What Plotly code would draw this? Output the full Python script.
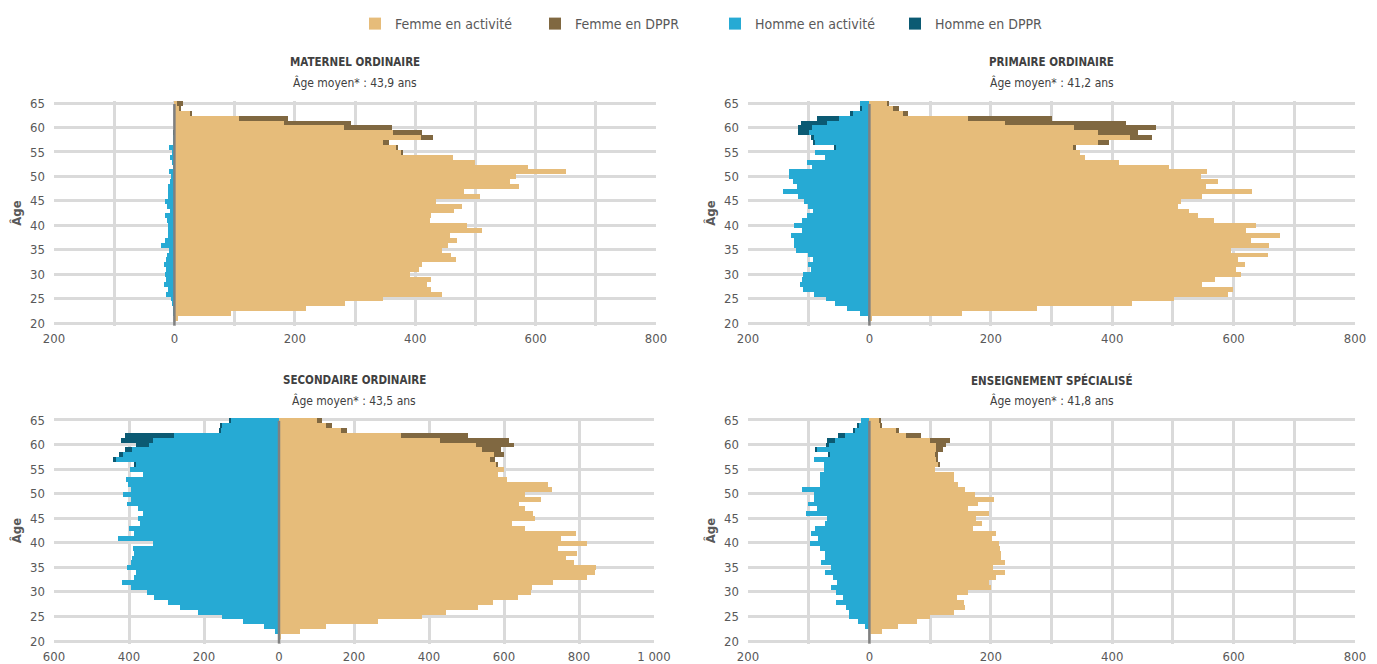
import plotly.graph_objects as go

ages = list(range(65, 19, -1))  # 65 .. 20

# ---- MATERNEL ORDINAIRE (ages 65 -> 20)
mat_f_act = [5, 8, 26, 107, 182, 281, 363, 409, 347, 368, 378, 462, 500, 588, 650, 567, 558, 573, 481, 507,
             434, 477, 465, 427, 424, 486, 511, 457, 470, 455, 445, 460, 467, 412, 407, 391, 426, 419, 427, 444,
             346, 283, 218, 94, 6, 0]
mat_f_dppr = [9, 2, 2, 82, 112, 81, 49, 21, 10, 4, 1, 0, 0, 0, 0, 0, 0, 0, 0, 0,
              0, 0, 0, 0, 0, 0, 0, 0, 0, 0, 0, 0, 0, 0, 0, 0, 0, 0, 0, 0,
              0, 0, 0, 0, 0, 0]
mat_h_act = [0, 0, 0, 0, 0, 0, 0, 3, 3, 9, 4, 7, 4, 3, 9, 5, 7, 10, 10, 10,
             15, 12, 8, 15, 12, 10, 10, 10, 15, 23, 9, 12, 14, 17, 14, 15, 14, 17, 10, 14,
             6, 4, 2, 1, 0, 0]
mat_h_dppr = [0, 0, 0, 0, 0, 0, 3, 0, 0, 0, 0, 0, 0, 0, 0, 0, 0, 0, 0, 0,
              0, 0, 0, 0, 0, 0, 0, 0, 0, 0, 0, 0, 0, 0, 0, 0, 0, 0, 0, 0,
              0, 0, 0, 0, 0, 0]

# ---- PRIMAIRE ORDINAIRE
pri_f_act = [29, 39, 55, 162, 224, 337, 377, 430, 377, 335, 347, 356, 412, 493, 556, 546, 574, 554, 631, 548,
             513, 509, 527, 541, 567, 637, 620, 677, 629, 659, 596, 657, 607, 619, 604, 612, 569, 548, 599, 591,
             502, 433, 276, 153, 4, 0]
pri_f_dppr = [3, 9, 8, 139, 199, 135, 65, 36, 17, 6, 0, 0, 0, 0, 0, 0, 0, 0, 0, 0,
              0, 0, 0, 0, 0, 0, 0, 0, 0, 0, 0, 0, 0, 0, 0, 0, 0, 0, 0, 0,
              0, 0, 0, 0, 0, 0]
pri_h_act = [16, 13, 27, 50, 70, 95, 99, 91, 91, 56, 90, 73, 102, 94, 132, 132, 126, 119, 143, 118,
             108, 101, 93, 103, 111, 124, 111, 129, 125, 125, 121, 101, 93, 101, 97, 110, 111, 115, 110, 92,
             71, 57, 37, 15, 1, 0]
pri_h_dppr = [0, 2, 5, 37, 43, 22, 19, 5, 2, 2, 0, 0, 0, 0, 0, 0, 0, 0, 0, 0,
              0, 0, 0, 0, 0, 0, 0, 0, 0, 0, 0, 0, 0, 0, 0, 0, 0, 0, 0, 0,
              0, 0, 0, 0, 0, 0]

# ---- SECONDAIRE ORDINAIRE
sec_f_act = [101, 125, 166, 324, 428, 525, 541, 572, 562, 579, 601, 585, 607, 716, 728, 655, 699, 640, 655, 678,
             682, 622, 655, 793, 753, 820, 744, 794, 766, 786, 846, 843, 820, 731, 675, 672, 638, 571, 530, 445,
             382, 264, 125, 57, 3, 0]
sec_f_dppr = [13, 16, 15, 179, 184, 102, 51, 29, 13, 6, 0, 0, 0, 0, 0, 0, 0, 0, 0, 0,
              0, 0, 0, 0, 0, 0, 0, 0, 0, 0, 0, 0, 0, 0, 0, 0, 0, 0, 0, 0,
              0, 0, 0, 0, 0, 0]
sec_h_act = [128, 153, 155, 280, 337, 347, 391, 417, 434, 383, 398, 363, 407, 403, 394, 415, 394, 405, 376, 363,
             376, 370, 400, 386, 429, 337, 389, 387, 392, 394, 405, 382, 386, 418, 394, 352, 333, 297, 264, 217,
             153, 95, 39, 10, 1, 0]
sec_h_dppr = [5, 5, 5, 130, 84, 34, 20, 11, 8, 3, 0, 0, 0, 0, 0, 0, 0, 0, 0, 0,
              0, 0, 0, 0, 0, 0, 0, 0, 0, 0, 0, 0, 0, 0, 0, 0, 0, 0, 0, 0,
              0, 0, 0, 0, 0, 0]

# ---- ENSEIGNEMENT SPÉCIALISÉ
spe_f_act = [17, 19, 44, 60, 100, 109, 110, 108, 111, 114, 108, 139, 139, 146, 158, 174, 206, 179, 162, 197,
             176, 185, 171, 209, 202, 214, 215, 217, 217, 224, 204, 224, 209, 197, 201, 162, 144, 156, 158, 139,
             100, 79, 47, 21, 0, 0]
spe_f_dppr = [1, 2, 5, 25, 33, 17, 11, 5, 1, 3, 0, 0, 0, 0, 0, 0, 0, 0, 0, 0,
              0, 0, 0, 0, 0, 0, 0, 0, 0, 0, 0, 0, 0, 0, 0, 0, 0, 0, 0, 0,
              0, 0, 0, 0, 0, 0]
spe_h_act = [14, 18, 24, 41, 57, 68, 87, 65, 92, 74, 74, 81, 81, 81, 111, 92, 92, 101, 87, 104,
             70, 73, 90, 96, 85, 98, 82, 73, 73, 80, 63, 73, 60, 53, 64, 55, 44, 55, 39, 34,
             33, 18, 7, 0, 0, 0]
spe_h_dppr = [0, 2, 2, 10, 13, 3, 3, 2, 0, 0, 0, 0, 0, 0, 0, 0, 0, 0, 0, 0,
              0, 0, 0, 0, 0, 0, 0, 0, 0, 0, 0, 0, 0, 0, 0, 0, 0, 0, 0, 0,
              0, 0, 0, 0, 0, 0]

panel_titles = ["MATERNEL ORDINAIRE", "PRIMAIRE ORDINAIRE", "SECONDAIRE ORDINAIRE", "ENSEIGNEMENT SPÉCIALISÉ"]
panel_subtitles = ["Âge moyen* : 43,9 ans", "Âge moyen* : 41,2 ans", "Âge moyen* : 43,5 ans", "Âge moyen* : 41,8 ans"]
series_names = ["Femme en activité", "Femme en DPPR", "Homme en activité", "Homme en DPPR"]
y_ticks = [20, 25, 30, 35, 40, 45, 50, 55, 60, 65]
x_ticks_small = [-200, 0, 200, 400, 600, 800]
x_ticks_small_text = ["200", "0", "200", "400", "600", "800"]
x_ticks_big = [-600, -400, -200, 0, 200, 400, 600, 800, 1000]
x_ticks_big_text = ["600", "400", "200", "0", "200", "400", "600", "800", "1 000"]

COL_F_ACT = "#E6BC7A"
COL_F_DPPR = "#806841"
COL_H_ACT = "#26AAD4"
COL_H_DPPR = "#0B5A73"
GRID = "#DADADA"
TXT = "#595959"
FONT = "DejaVu Sans Condensed, Liberation Sans Narrow, Roboto Condensed, Arial Narrow, sans-serif"

panels = [
    (mat_f_act, mat_f_dppr, mat_h_act, mat_h_dppr),
    (pri_f_act, pri_f_dppr, pri_h_act, pri_h_dppr),
    (sec_f_act, sec_f_dppr, sec_h_act, sec_h_dppr),
    (spe_f_act, spe_f_dppr, spe_h_act, spe_h_dppr),
]

W, H = 1377, 664
OFF = 8  # page body margin offset
# pixel domains of plot areas (page pixels)
x_dom_px = [(54, 656), (748, 1355), (54, 654), (748, 1355)]
y_dom_px = [(100.6, 325.5), (100.6, 325.5), (417.5, 643.5), (417.5, 643.5)]
x_ranges = [(-200, 800), (-200, 800), (-600, 1000), (-200, 800)]

fig = go.Figure()
colors = [COL_F_ACT, COL_F_DPPR, COL_H_ACT, COL_H_DPPR]

for i, (fa, fd, ha, hd) in enumerate(panels):
    ax = "" if i == 0 else str(i + 1)
    vals = [fa, fd, [-v for v in ha], [-v for v in hd]]
    for k in range(4):
        fig.add_trace(go.Bar(
            y=ages, x=vals[k], orientation="h", name=series_names[k],
            marker=dict(color=colors[k], line=dict(width=0)),
            xaxis="x" + ax, yaxis="y" + ax, showlegend=(i == 0), legendrank=k + 1,
            hoverinfo="skip",
        ))
    x0, x1 = [v - OFF for v in x_dom_px[i]]
    yt, yb = [v - OFF for v in y_dom_px[i]]
    big = i == 2
    step = 200 if big else 100
    lo, hi = x_ranges[i]
    gridvals = list(range(lo, hi + 1, step))
    if big:
        tvals, ttext = x_ticks_big, x_ticks_big_text
    else:
        tvals, ttext = x_ticks_small, x_ticks_small_text
    full_text = [ttext[tvals.index(v)] if v in tvals else "" for v in gridvals]
    fig.update_layout(**{
        "xaxis" + ax: dict(
            domain=[x0 / W, x1 / W], range=[lo, hi], anchor="y" + ax,
            tickvals=gridvals, ticktext=full_text, showgrid=True, gridcolor=GRID, gridwidth=2.5,
            zeroline=False, showline=False, ticks="", automargin=False, ticklabelstandoff=3,
            tickfont=dict(size=13, color=TXT, family=FONT), fixedrange=True,
        ),
        "yaxis" + ax: dict(
            domain=[1 - yb / H, 1 - yt / H], range=[19.5, 65.5], anchor="x" + ax,
            tickvals=y_ticks, showgrid=True, gridcolor=GRID, gridwidth=2.5,
            zeroline=False, showline=False, ticks="", automargin=False, ticklabelstandoff=8,
            tickfont=dict(size=13, color=TXT, family=FONT),
            title=dict(text="<b>Âge</b>", font=dict(size=13, color=TXT, family=FONT), standoff=5),
            fixedrange=True,
        ),
    })
    # vertical axis line at zero
    fig.add_shape(type="line", xref="x" + ax, yref="y" + ax + " domain",
                  x0=0, x1=0, y0=0, y1=0.985, line=dict(color="#808080", width=2.5), layer="above")
    cx = (x0 + x1) / 2 / W
    ty = (62 if i < 2 else 380) - OFF
    fig.add_annotation(text="<b>" + panel_titles[i] + "</b>", x=cx, y=1 - ty / H, xref="paper", yref="paper",
                       showarrow=False, font=dict(size=11.5, color="#404040", family=FONT), xanchor="center", yanchor="middle")
    fig.add_annotation(text=panel_subtitles[i], x=cx, y=1 - (ty + 20) / H, xref="paper", yref="paper",
                       showarrow=False, font=dict(size=12, color="#404040", family=FONT), xanchor="center", yanchor="middle")

fig.update_layout(
    width=W, height=H, barmode="relative", bargap=0,
    margin=dict(l=0, r=0, t=0, b=0, autoexpand=False),
    paper_bgcolor="white", plot_bgcolor="white",
    font=dict(family=FONT, color=TXT),
    legend=dict(orientation="h", x=(355 - OFF) / W, xanchor="left", y=1, yanchor="top",
                font=dict(size=14, color=TXT, family=FONT), entrywidth=135, traceorder="normal",
                itemclick=False, itemdoubleclick=False),
    showlegend=True,
)

fig.write_html("out.html")
